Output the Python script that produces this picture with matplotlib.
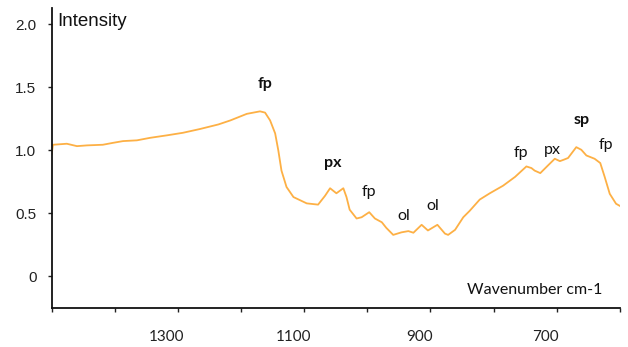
import matplotlib
matplotlib.use("Agg")
import matplotlib.pyplot as plt
import matplotlib.transforms as mtransforms

# spectrum (wavenumber cm-1, intensity)
wavenumber = [1500, 1498, 1476, 1460, 1444, 1419, 1403, 1387, 1365, 1344, 1317,
              1292, 1265, 1236, 1217, 1191, 1170, 1162, 1154, 1146, 1141, 1136,
              1128, 1117, 1096, 1078, 1067, 1059, 1049, 1038, 1033, 1028, 1017,
              1009, 997, 988, 977, 970, 959, 946, 935, 927, 914, 904, 889, 877,
              872, 861, 848, 838, 822, 806, 785, 766, 748, 740, 735, 726, 714,
              703, 695, 689, 682, 669, 661, 653, 640, 631, 624, 616, 606, 600]
intensity = [0.97, 1.045, 1.053, 1.034, 1.04, 1.045, 1.06, 1.074, 1.08, 1.10, 1.12,
             1.14, 1.17, 1.206, 1.238, 1.29, 1.31, 1.30, 1.238, 1.135, 1.0, 0.84,
             0.71, 0.63, 0.58, 0.57, 0.64, 0.70, 0.66, 0.70, 0.63, 0.53, 0.46,
             0.47, 0.51, 0.46, 0.43, 0.386, 0.33, 0.35, 0.36, 0.347, 0.41, 0.365,
             0.41, 0.34, 0.33, 0.37, 0.47, 0.52, 0.61, 0.66, 0.72, 0.79, 0.873,
             0.86, 0.84, 0.82, 0.88, 0.934, 0.915, 0.926, 0.94, 1.026, 1.005,
             0.96, 0.934, 0.90, 0.79, 0.656, 0.577, 0.56]

# band assignments: (label, x, y, bold)
band_labels = ["fp", "px", "fp", "ol", "ol", "fp", "px", "sp", "fp"]
band_x = [1162, 1054, 997, 943, 897, 757, 707, 660, 622]
band_y = [1.53, 0.90, 0.667, 0.48, 0.56, 0.98, 1.00, 1.24, 1.04]
band_bold = [True, True, False, False, False, False, False, True, False]

xticks = list(range(1500, 599, -100))
xtick_labels = ["1300", "1100", "900", "700"]
yticks = [0, 0.5, 1.0, 1.5, 2.0]
ytick_labels = ["0", "0.5", "1.0", "1.5", "2.0"]

fig = plt.figure(figsize=(6.28, 3.47), dpi=100)
ax = fig.add_axes([0.0823, 0.1124, 0.9047, 0.8646])

ax.plot(wavenumber, intensity, color="#FDB045", lw=1.3)
ax.set_xlim(1500, 600)
ax.set_ylim(-0.25, 2.13)

ax.set_xticks(xticks)
ax.set_xticklabels([str(t) if str(t) in xtick_labels else "" for t in xticks],
                   family="Lato", fontsize=11)
ax.set_yticks(yticks)
ax.set_yticklabels(ytick_labels, family="Liberation Sans", fontsize=11)
ax.tick_params(axis="x", length=3, width=1, pad=13, colors="#222222")
ax.tick_params(axis="y", length=3, width=1, pad=8, colors="#222222")
shift = mtransforms.ScaledTranslation(-0.11, 0, fig.dpi_scale_trans)
for lbl in ax.get_xticklabels():
    lbl.set_transform(lbl.get_transform() + shift)

for s in ("top", "right"):
    ax.spines[s].set_visible(False)
for s in ("left", "bottom"):
    ax.spines[s].set_linewidth(1.3)
    ax.spines[s].set_color("#111111")

for lab, x, y, b in zip(band_labels, band_x, band_y, band_bold):
    ax.text(x, y, lab, ha="center", va="center", fontsize=11.5, family="Lato",
            fontweight="bold" if b else "normal", color="#111111")

ax.text(1491, 2.02, "Intensity", ha="left", va="center", fontsize=13.5,
        family="Liberation Sans", color="#111111")
ax.text(627, -0.11, "Wavenumber cm-1", ha="right", va="center", fontsize=11.5,
        family="Lato", color="#111111")

fig.savefig("out.png", dpi=100)
